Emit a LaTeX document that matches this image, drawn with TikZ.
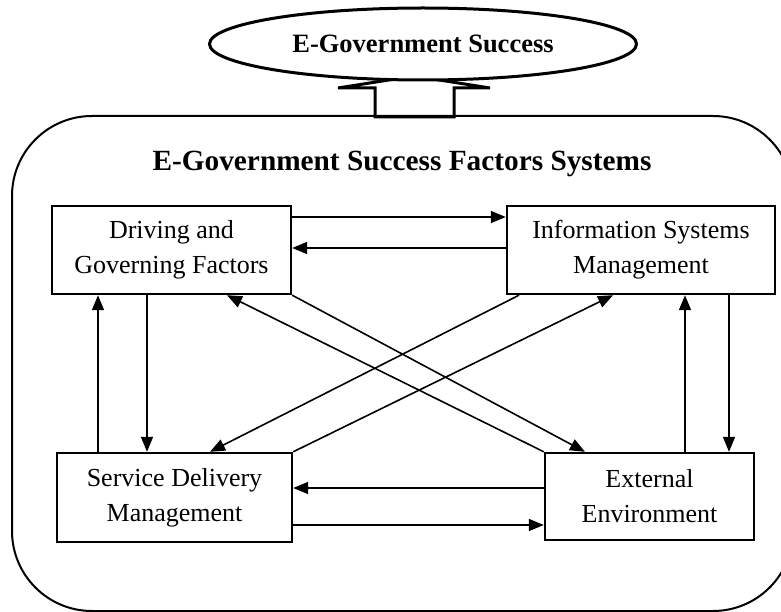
\documentclass[tikz,border=0pt]{standalone}
\usepackage{fontspec}
\setmainfont{Liberation Serif}
\usetikzlibrary{arrows.meta,shapes.geometric}
\begin{document}
\begin{tikzpicture}[x=1pt,y=-1pt,
  factor/.style={draw, line width=2.4pt, align=center, inner sep=0pt,
    font=\fontsize{26}{35}\selectfont},
  arr/.style={line width=1.6pt, -{Triangle[length=15pt,width=12pt]}},
  frame/.style={line width=2pt, rounded corners=80pt},
  block/.style={line width=3pt, line join=miter}
]
\useasboundingbox (0,0) rectangle (781,612);
% outer system frame
\draw[frame] (12,116) rectangle (793,611);
% block arrow up to goal
\draw[block] (375,117) -- (375,88) -- (338,88) -- (414,76) -- (490,88) -- (454,88) -- (454,117) -- cycle;
% goal ellipse
\node[draw, ellipse, line width=3pt, fill=white, minimum width=427pt, minimum height=72pt, inner sep=0pt,
  font=\bfseries\fontsize{26.5}{30}\selectfont] (goal) at (423,44) {E-Government Success};
% title
\node[font=\bfseries\fontsize{29.3}{33}\selectfont] (title) at (402,164) {E-Government Success Factors Systems};
% factor boxes
\node[factor, minimum width=239pt, minimum height=88pt] (dgf) at (171.5,250) {Driving and\\Governing Factors};
\node[factor, minimum width=268pt, minimum height=88pt] (ism) at (641,250) {Information Systems\\Management};
\node[factor, minimum width=235pt, minimum height=89pt] (sdm) at (174.5,497.5) {Service Delivery\\Management};
\node[factor, minimum width=209pt, minimum height=87pt] (ee) at (649.5,496.5) {External\\Environment};
% horizontal connectors
\draw[arr] (dgf.east |- 0,217) -- (ism.west |- 0,217);
\draw[arr] (ism.west |- 0,248) -- (dgf.east |- 0,248);
\draw[arr] (ee.west |- 0,488) -- (sdm.east |- 0,488);
\draw[arr] (sdm.east |- 0,525) -- (ee.west |- 0,525);
% vertical connectors
\draw[arr] (sdm.north -| 98,0) -- (dgf.south -| 98,0);
\draw[arr] (dgf.south -| 147,0) -- (sdm.north -| 147,0);
\draw[arr] (ee.north -| 685,0) -- (ism.south -| 685,0);
\draw[arr] (ism.south -| 729,0) -- (ee.north -| 729,0);
% diagonal connectors
\draw[arr] (dgf.south east) -- (ee.north -| 585,0);
\draw[arr] (ee.north west) -- (dgf.south -| 227,0);
\draw[arr] (ism.south -| 519,0) -- (sdm.north -| 210,0);
\draw[arr] (sdm.north east) -- (ism.south -| 613,0);
\end{tikzpicture}
\end{document}
